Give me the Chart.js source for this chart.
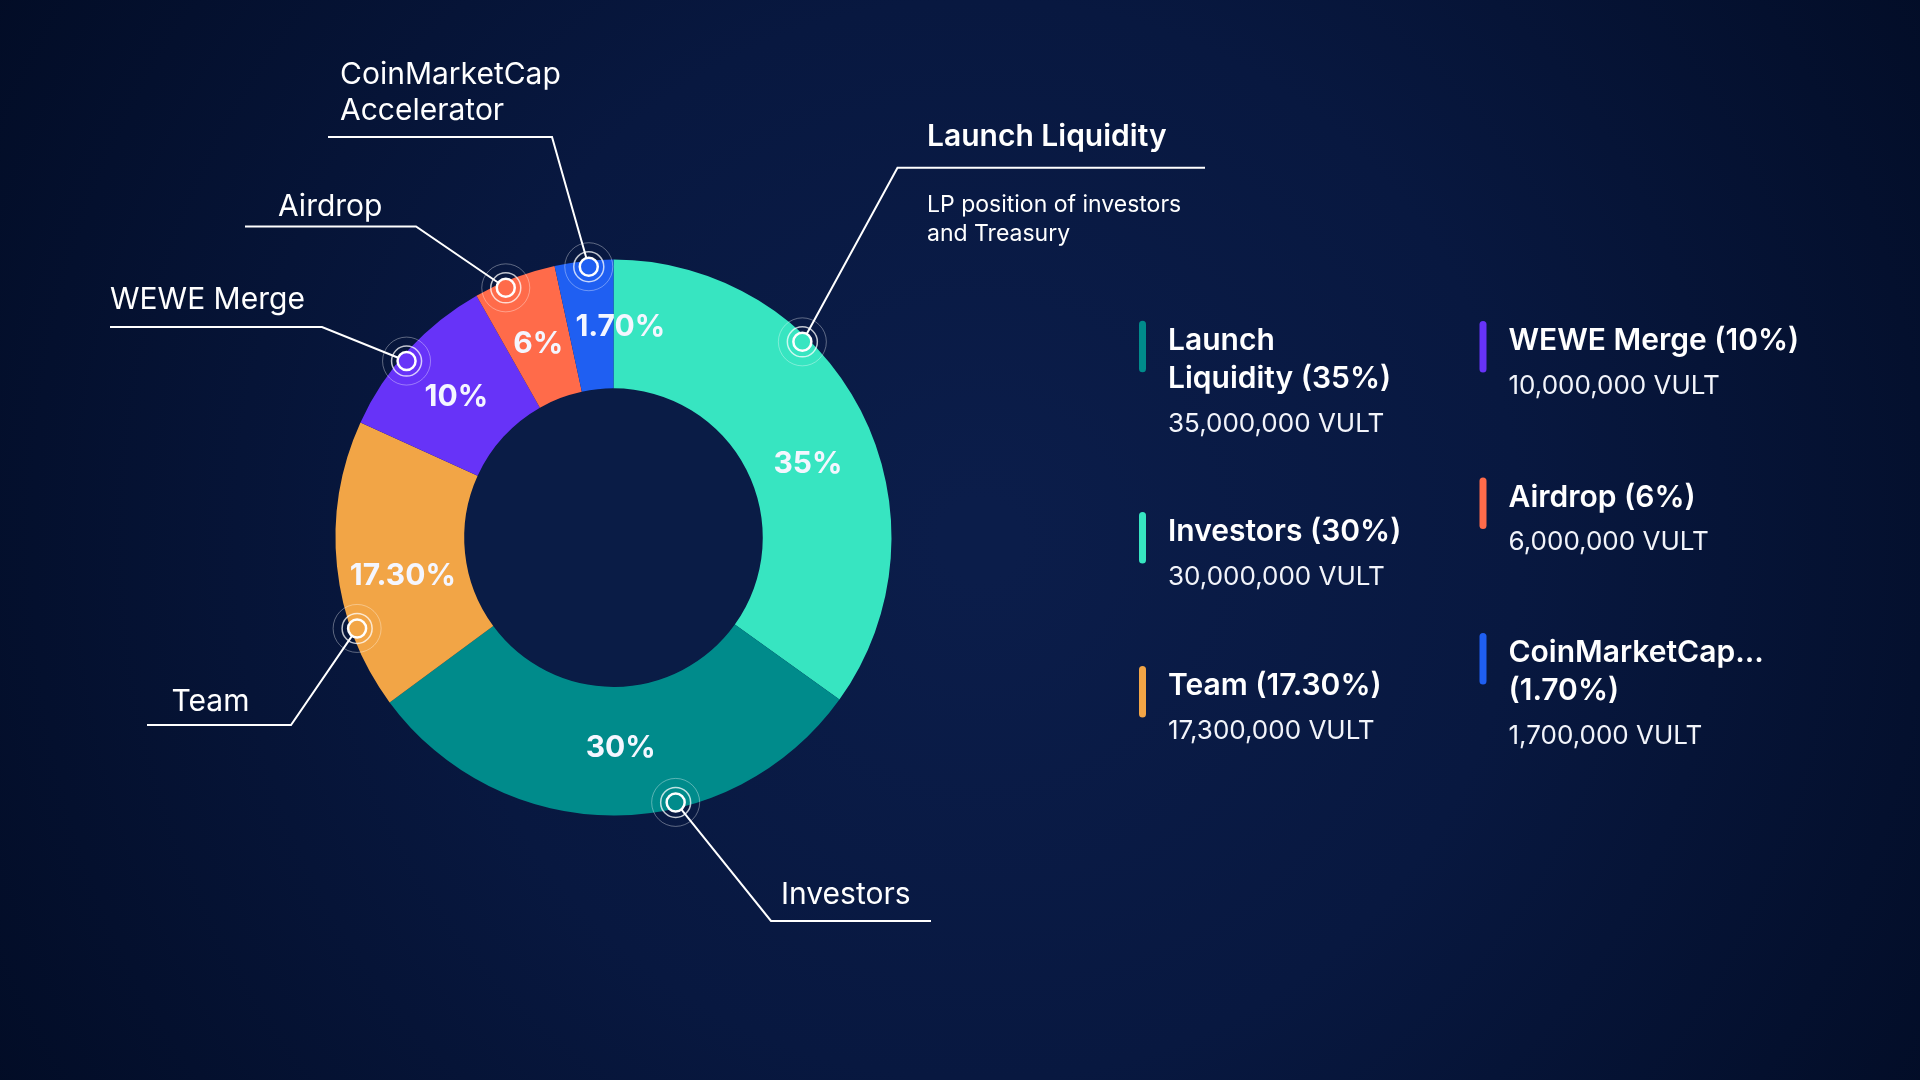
<!DOCTYPE html>
<html>
<head>
<meta charset="utf-8">
<script src="https://cdn.jsdelivr.net/npm/chart.js@4.4.1/dist/chart.umd.min.js"></script>
<style>
  html, body { margin: 0; padding: 0; background: #030f2b; }
  #wrap { width: 1920px; height: 1080px; }
  canvas { display: block; }
</style>
</head>
<body>
<div id="wrap"><canvas id="c" width="1920" height="1080"></canvas></div>
<script>
// ---------------- DATA ----------------
const labels = ['Launch Liquidity', 'Investors', 'Team', 'WEWE Merge', 'Airdrop', 'CoinMarketCap Accelerator'];
// stated allocation (labels / legend)
const shares = [35, 30, 17.3, 10, 6, 1.7];
// arc sizes as actually drawn in the picture (small slices are widened there)
const arcShares = [34.9, 30, 16.9, 10, 4.8, 3.4];
const tokenAmounts = [35000000, 30000000, 17300000, 10000000, 6000000, 1700000];
const tokenUnit = 'VULT';
const sliceColors = ['#37E5C1', '#008B8B', '#F2A546', '#6733F8', '#FF6B4A', '#1F5FF2'];
const legendColors = ['#008B8B', '#37E5C1', '#F2A546', '#6733F8', '#FF6B4A', '#1F5FF2'];
const legendNames = ['Launch|Liquidity', 'Investors', 'Team', 'WEWE Merge', 'Airdrop', 'CoinMarketCap...|'];
const calloutTitles = [['Launch Liquidity'], ['Investors'], ['Team'], ['WEWE Merge'], ['Airdrop'], ['CoinMarketCap', 'Accelerator']];
const calloutNote = ['LP position of investors', 'and Treasury'];

// ---------------- HELPERS ----------------
function fmtPct(v) {
  return (Number.isInteger(v) ? String(v) : v.toFixed(2)) + '%';
}
function fmtAmount(v) {
  return v.toLocaleString('en-US') + ' ' + tokenUnit;
}
const FONT = 'Inter, "Open Sans", sans-serif';
const TY = 2.5; // baseline nudge for 'middle' text

// ---------------- PLUGINS ----------------
const backgroundPlugin = {
  id: 'bg',
  beforeDraw(chart) {
    const ctx = chart.ctx;
    const w = chart.width, h = chart.height;
    ctx.save();
    const g = ctx.createRadialGradient(980, 540, 40, 980, 540, 1150);
    g.addColorStop(0, '#0B1D4A');
    g.addColorStop(0.45, '#081840');
    g.addColorStop(1, '#020C25');
    ctx.fillStyle = g;
    ctx.fillRect(0, 0, w, h);
    const meta = chart.getDatasetMeta(0);
    if (meta.data.length) {
      const a = meta.data[0];
      ctx.beginPath();
      ctx.arc(a.x, a.y, a.innerRadius, 0, Math.PI * 2);
      ctx.fillStyle = '#0A1C46';
      ctx.fill();
    }
    ctx.restore();
  }
};

const calloutPlugin = {
  id: 'callouts',
  afterDatasetsDraw(chart, args, opts) {
    const ctx = chart.ctx;
    const meta = chart.getDatasetMeta(0);
    ctx.save();
    meta.data.forEach((arc, i) => {
      const p = arc.getProps(['x', 'y', 'startAngle', 'endAngle', 'innerRadius', 'outerRadius'], true);
      const L = opts.items[i];
      // slice percentage label
      const la = p.startAngle + L.labelFrac * (p.endAngle - p.startAngle);
      const lr = (p.innerRadius + p.outerRadius) / 2 + (L.labelDr || 0);
      ctx.font = '700 30px ' + FONT;
      ctx.fillStyle = '#F4F6FF';
      ctx.textAlign = 'center';
      ctx.textBaseline = 'middle';
      ctx.fillText(fmtPct(shares[i]), p.x + lr * Math.cos(la), p.y + lr * Math.sin(la) + TY);

      // marker
      const ma = p.startAngle + L.markFrac * (p.endAngle - p.startAngle);
      const mr = p.outerRadius - 6;
      const mx = p.x + mr * Math.cos(ma), my = p.y + mr * Math.sin(ma);

      // leader line
      const [ex, ey] = L.elbow;
      const dx = ex - mx, dy = ey - my, d = Math.hypot(dx, dy);
      const r0 = 9;
      ctx.strokeStyle = '#FFFFFF';
      ctx.lineWidth = 2;
      ctx.beginPath();
      ctx.moveTo(mx + dx / d * r0, my + dy / d * r0);
      ctx.lineTo(ex, ey);
      ctx.lineTo(L.end, ey);
      ctx.stroke();

      // rings
      ctx.beginPath();
      ctx.arc(mx, my, 24, 0, Math.PI * 2);
      ctx.strokeStyle = 'rgba(255,255,255,0.35)';
      ctx.lineWidth = 1;
      ctx.stroke();
      ctx.beginPath();
      ctx.arc(mx, my, 15, 0, Math.PI * 2);
      ctx.strokeStyle = 'rgba(255,255,255,0.75)';
      ctx.lineWidth = 1.5;
      ctx.stroke();
      ctx.beginPath();
      ctx.arc(mx, my, 9, 0, Math.PI * 2);
      ctx.fillStyle = sliceColors[i];
      ctx.fill();
      ctx.strokeStyle = '#FFFFFF';
      ctx.lineWidth = 2.5;
      ctx.stroke();

      // callout text
      ctx.textAlign = 'left';
      ctx.textBaseline = 'middle';
      ctx.fillStyle = '#FFFFFF';
      ctx.font = (L.bold ? '600 ' : '400 ') + '30px ' + FONT;
      calloutTitles[i].forEach((t, k) => {
        ctx.fillText(t, L.text[0], L.text[1] + k * 36 + TY);
      });
      if (L.note) {
        ctx.font = '400 23px ' + FONT;
        calloutNote.forEach((t, k) => {
          ctx.fillText(t, L.note[0], L.note[1] + k * 28.4 + TY);
        });
      }
    });
    ctx.restore();
  }
};

const sideLegendPlugin = {
  id: 'sideLegend',
  afterDraw(chart, args, opts) {
    const ctx = chart.ctx;
    ctx.save();
    labels.forEach((lab, i) => {
      const pos = opts.items[i];
      const barX = opts.columns[pos.col];
      const top = pos.top;
      ctx.strokeStyle = legendColors[i];
      ctx.lineWidth = 7;
      ctx.lineCap = 'round';
      ctx.beginPath();
      ctx.moveTo(barX, top + 3.5);
      ctx.lineTo(barX, top + 48);
      ctx.stroke();
      const parts = legendNames[i].split('|');
      const last = parts.length - 1;
      parts[last] = (parts[last] ? parts[last] + ' ' : '') + '(' + fmtPct(shares[i]) + ')';
      const tx = barX + 25.5;
      ctx.fillStyle = '#FFFFFF';
      ctx.textAlign = 'left';
      ctx.textBaseline = 'middle';
      ctx.font = '600 30px ' + FONT;
      let y = top + 17.5 + TY;
      parts.forEach((t, k) => {
        ctx.fillText(t, tx, y + k * 38);
      });
      y += last * 38 + 45;
      ctx.font = '400 26px ' + FONT;
      ctx.fillStyle = '#F2F4FA';
      ctx.fillText(fmtAmount(tokenAmounts[i]), tx, y);
    });
    ctx.restore();
  }
};

// ---------------- CHART ----------------
new Chart(document.getElementById('c'), {
  type: 'doughnut',
  data: {
    labels: labels,
    datasets: [{
      data: arcShares,
      backgroundColor: sliceColors,
      borderWidth: 0,
      hoverOffset: 0,
      offset: 0
    }]
  },
  options: {
    responsive: false,
    devicePixelRatio: 1,
    animation: false,
    cutout: '53.7%',
    rotation: 0,
    layout: { padding: { left: 335.5, top: 259.6, right: 1028.5, bottom: 264.4 } },
    events: [],
    plugins: {
      legend: { display: false },
      tooltip: { enabled: false },
      callouts: {
        items: [
          { labelFrac: 0.547, labelDr: -5, markFrac: 0.35, elbow: [897.5, 167.8], end: 1205, text: [927, 134.7], bold: true, note: [927, 203] },
          { labelFrac: 0.485, labelDr: -6, markFrac: 0.381, elbow: [771, 921], end: 931, text: [781, 892.6] },
          { labelFrac: 0.44, labelDr: 0, markFrac: 0.277, elbow: [291, 725], end: 147, text: [171.5, 699] },
          { labelFrac: 0.497, labelDr: -1, markFrac: 0.444, elbow: [322, 327], end: 110, text: [110, 297.5] },
          { labelFrac: 0.49, labelDr: -4, markFrac: 0.358, elbow: [416, 226.5], end: 245, text: [278, 204.5] },
          { labelFrac: 1.15, labelDr: 0, markFrac: 0.574, elbow: [552, 137], end: 328, text: [340, 72] }
        ]
      },
      sideLegend: {
        columns: [1142.5, 1483],
        items: [
          { col: 0, top: 320.8 },
          { col: 0, top: 512 },
          { col: 0, top: 666 },
          { col: 1, top: 321 },
          { col: 1, top: 477.5 },
          { col: 1, top: 633 }
        ]
      }
    }
  },
  plugins: [backgroundPlugin, calloutPlugin, sideLegendPlugin]
});
</script>
</body>
</html>
